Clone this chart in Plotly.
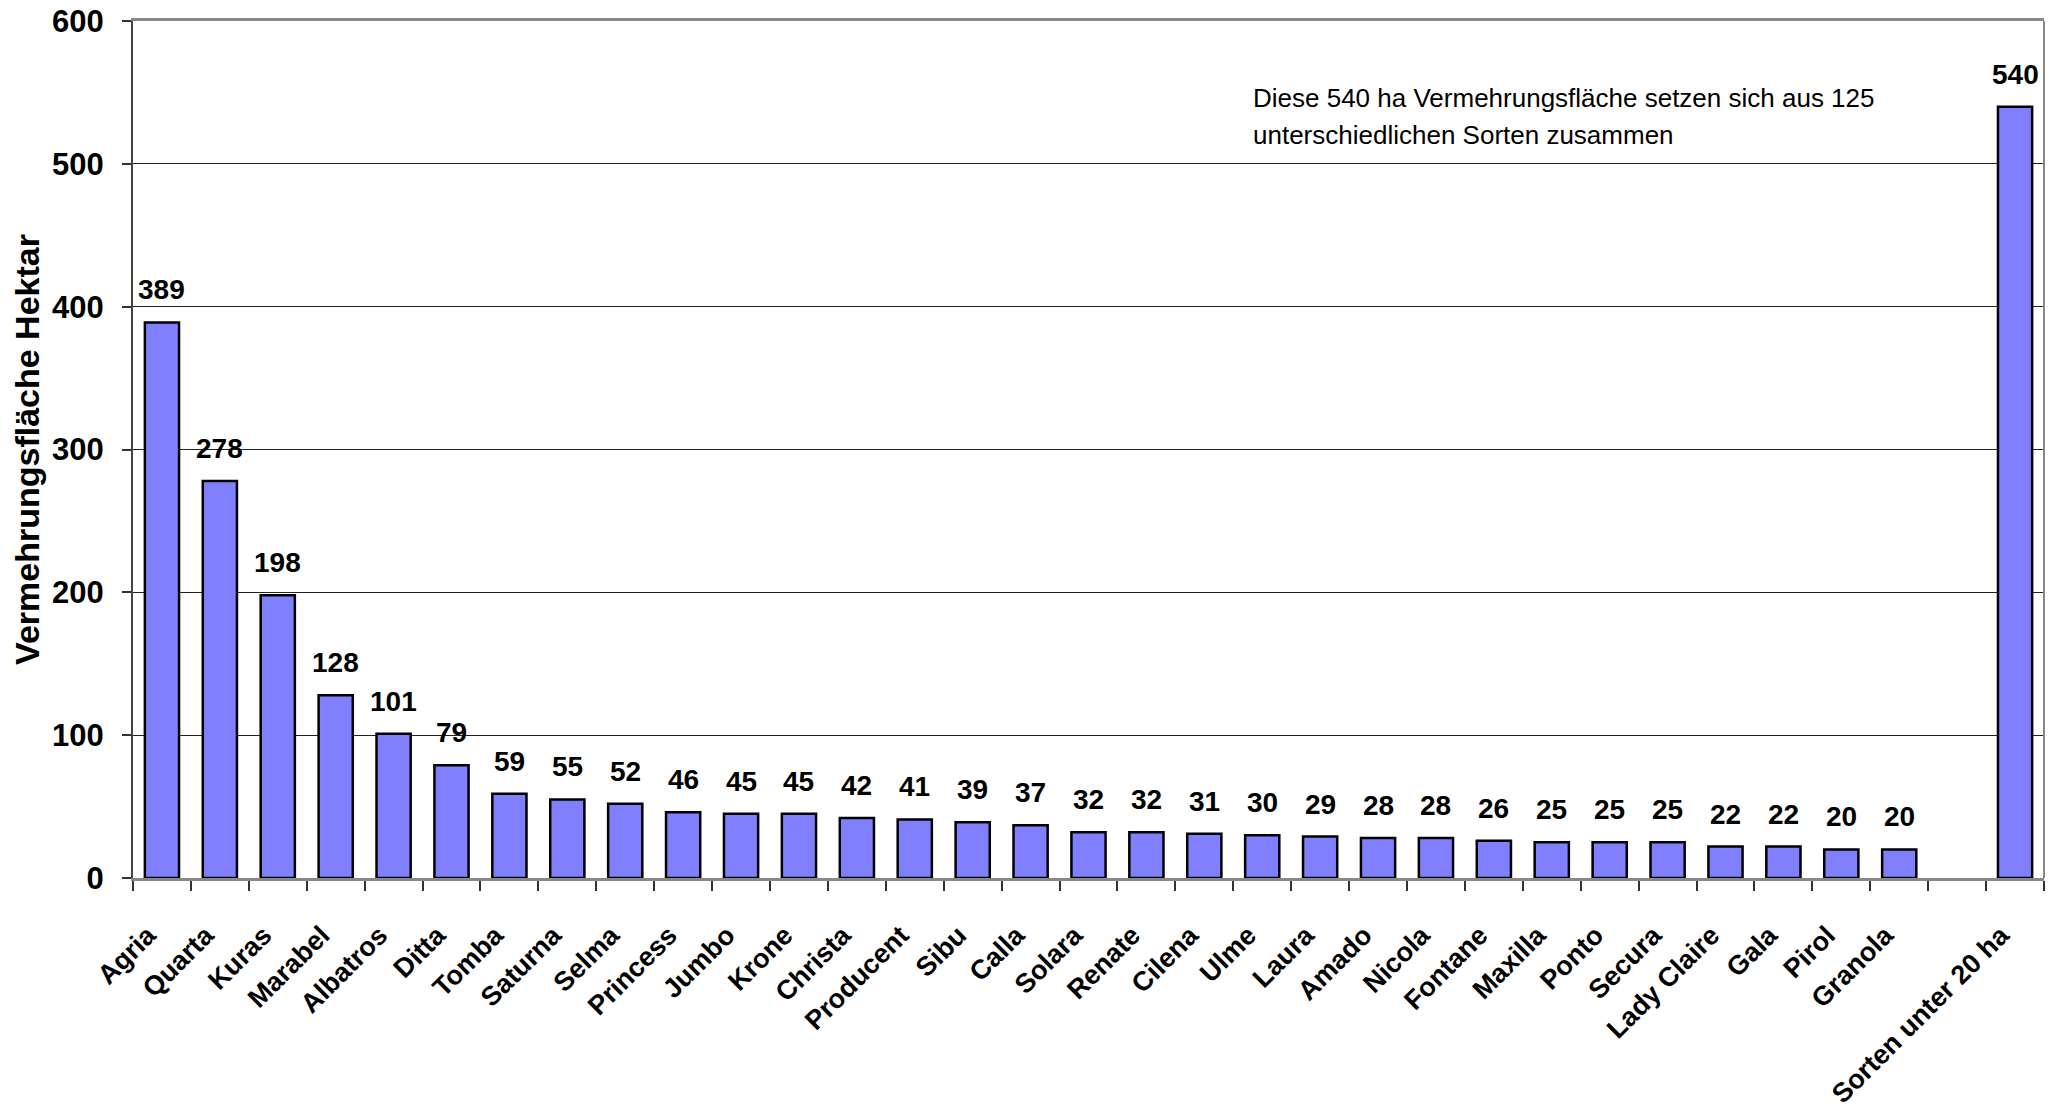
import plotly.graph_objects as go

categories = ["Agria", "Quarta", "Kuras", "Marabel", "Albatros", "Ditta", "Tomba",
              "Saturna", "Selma", "Princess", "Jumbo", "Krone", "Christa", "Producent",
              "Sibu", "Calla", "Solara", "Renate", "Cilena", "Ulme", "Laura", "Amado",
              "Nicola", "Fontane", "Maxilla", "Ponto", "Secura", "Lady Claire", "Gala",
              "Pirol", "Granola", " ", "Sorten unter 20 ha"]
values = [389, 278, 198, 128, 101, 79, 59, 55, 52, 46, 45, 45, 42, 41, 39, 37, 32,
          32, 31, 30, 29, 28, 28, 26, 25, 25, 25, 22, 22, 20, 20, None, 540]
y_ticks = [0, 100, 200, 300, 400, 500, 600]
y_title = "Vermehrungsfläche Hektar"
note_lines = ["Diese 540 ha Vermehrungsfläche setzen sich aus 125",
              "unterschiedlichen Sorten zusammen"]

FONT = "Liberation Sans, Arial, sans-serif"

fig = go.Figure()
fig.add_trace(go.Bar(
    x=categories, y=values,
    marker=dict(color="#8080FF", line=dict(color="#000000", width=2.5)),
    hoverinfo="x+y",
))

# value labels above bars
for c, v in zip(categories, values):
    if v is None:
        continue
    fig.add_annotation(x=c, y=v, text=str(v), showarrow=False, yanchor="bottom",
                       yshift=15,
                       font=dict(family=FONT, size=28, color="#000", weight="bold"))

# note text
fig.add_annotation(xref="paper", yref="y", x=0.585, y=546, xanchor="left", yanchor="middle",
                   text=note_lines[0], showarrow=False,
                   font=dict(family=FONT, size=26, color="#000"))
fig.add_annotation(xref="paper", yref="y", x=0.585, y=520, xanchor="left", yanchor="middle",
                   text=note_lines[1], showarrow=False,
                   font=dict(family=FONT, size=26, color="#000"))

# right border
fig.add_shape(type="line", xref="paper", yref="paper", x0=1, x1=1, y0=0, y1=1,
              line=dict(color="#888888", width=2))

fig.update_layout(
    width=2057, height=1100,
    margin=dict(l=125, r=21, t=13, b=230, autoexpand=False),
    paper_bgcolor="white", plot_bgcolor="white",
    bargap=0.41,
    showlegend=False,
    font=dict(family=FONT, color="#000"),
)
fig.update_xaxes(
    type="category", categoryorder="array", categoryarray=categories,
    tickangle=-45, tickson="boundaries", ticks="outside", ticklen=10,
    tickcolor="#333", tickwidth=1.5,
    tickfont=dict(family=FONT, size=27, color="#000", weight="bold"),
    ticklabelstandoff=28, ticklabelshift=-14, ticklabeloverflow="allow",
    showline=True, linecolor="#888888", linewidth=2.5, mirror=True,
    showgrid=False, automargin=False,
)
fig.update_yaxes(
    range=[0, 600], tickvals=y_ticks, ticks="outside", ticklen=9,
    tickcolor="#333", tickwidth=1.5,
    tickfont=dict(family=FONT, size=31, color="#000", weight="bold"),
    ticklabelstandoff=12, ticklabeloverflow="allow",
    showline=True, linecolor="#444444", linewidth=2,
    showgrid=True, gridcolor="#222222", gridwidth=1,
    zeroline=False,
    title=dict(text=y_title, font=dict(family=FONT, size=34, color="#000", weight="bold"),
               standoff=14),
    automargin=False,
)

fig.write_html("out.html")
